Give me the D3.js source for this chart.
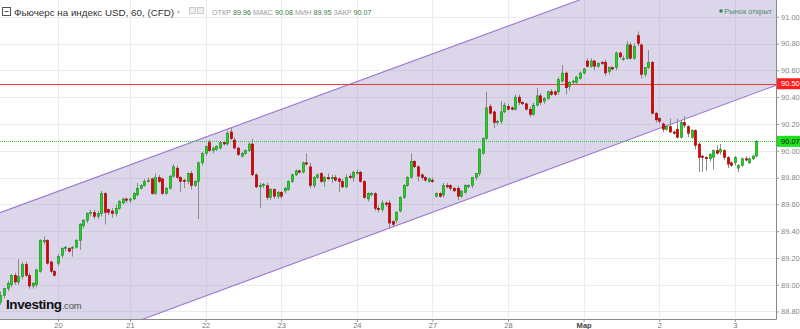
<!DOCTYPE html>
<html>
<head>
<meta charset="utf-8">
<script src="https://cdn.jsdelivr.net/npm/d3@7"></script>
<style>
  body { margin: 0; background: #fff; }
  svg { display: block; font-family: "Liberation Sans", Arial, sans-serif; }
</style>
</head>
<body>
<div id="chart"></div>
<script>
// hourly candles, USD index futures (CFD)
const opens = [88.87,88.92,88.97,89.00,89.07,89.02,89.06,89.15,89.07,88.99,89.00,89.10,89.32,89.33,89.17,89.10,89.16,89.22,89.27,89.27,
  89.27,89.28,89.33,89.44,89.48,89.53,89.54,89.51,89.53,89.68,89.56,89.55,89.53,89.57,89.61,89.64,89.63,89.64,89.67,89.72,
  89.74,89.77,89.79,89.68,89.80,89.79,89.68,89.72,89.81,89.87,89.80,89.78,89.77,89.83,89.74,89.77,89.91,89.98,90.06,90.00,
  90.01,90.02,90.06,90.05,90.14,90.08,90.02,89.96,89.98,90.00,90.05,89.82,89.73,89.74,89.74,89.65,89.71,89.66,89.69,89.70,
  89.71,89.77,89.82,89.85,89.84,89.91,89.88,89.74,89.80,89.83,89.77,89.80,89.79,89.80,89.79,89.77,89.73,89.81,89.80,89.83,
  89.84,89.77,89.64,89.67,89.68,89.57,89.56,89.61,89.61,89.47,89.48,89.55,89.65,89.74,89.80,89.92,89.88,89.82,89.80,89.77,
  89.78,89.66,89.68,89.67,89.74,89.74,89.72,89.72,89.66,89.69,89.73,89.74,89.80,89.83,89.98,90.09,90.33,90.29,90.21,90.22,
  90.29,90.33,90.32,90.31,90.40,90.36,90.35,90.31,90.27,90.34,90.41,90.37,90.39,90.44,90.44,90.44,90.52,90.58,90.48,90.51,
  90.51,90.54,90.58,90.67,90.63,90.67,90.63,90.66,90.66,90.59,90.62,90.62,90.73,90.69,90.69,90.79,90.69,90.86,90.79,90.57,
  90.62,90.66,90.28,90.24,90.20,90.16,90.18,90.14,90.16,90.10,90.21,90.18,90.10,90.15,90.05,89.96,89.95,89.94,89.95,90.00,
  89.99,90.00,89.95,89.91,89.91,89.87,89.89,89.94,89.91,89.94,89.96];
const highs = [88.95,88.97,89.03,89.08,89.09,89.19,89.17,89.17,89.09,89.02,89.12,89.34,89.36,89.34,89.18,89.11,89.23,89.28,89.29,89.28,
  89.29,89.34,89.46,89.49,89.54,89.56,89.56,89.55,89.70,89.69,89.57,89.57,89.60,89.63,89.65,89.65,89.65,89.69,89.76,89.75,
  89.79,89.80,89.80,89.83,89.82,89.80,89.73,89.82,89.90,89.89,89.81,89.79,89.84,89.85,89.78,89.92,89.99,90.04,90.08,90.03,
  90.04,90.07,90.07,90.15,90.17,90.10,90.03,89.99,90.01,90.06,90.09,89.83,89.76,89.76,89.76,89.72,89.72,89.70,89.70,89.73,
  89.78,89.83,89.86,89.86,89.92,89.98,89.91,89.81,89.83,89.84,89.81,89.83,89.82,89.82,89.80,89.79,89.82,89.83,89.85,89.86,
  89.85,89.78,89.69,89.69,89.69,89.59,89.63,89.62,89.63,89.48,89.55,89.66,89.75,89.81,89.98,89.93,89.89,89.83,89.81,89.80,
  89.80,89.69,89.69,89.76,89.76,89.75,89.73,89.74,89.70,89.75,89.75,89.80,89.83,90.02,90.10,90.44,90.35,90.30,90.23,90.37,
  90.36,90.35,90.33,90.42,90.42,90.37,90.36,90.33,90.36,90.47,90.43,90.40,90.45,90.46,90.45,90.55,90.64,90.59,90.52,90.53,
  90.56,90.59,90.62,90.69,90.69,90.68,90.66,90.67,90.68,90.63,90.63,90.74,90.74,90.71,90.82,90.81,90.80,90.89,90.80,90.62,
  90.75,90.67,90.29,90.25,90.21,90.19,90.24,90.15,90.24,90.23,90.26,90.19,90.16,90.16,90.06,89.97,89.96,89.98,90.01,90.04,
  90.05,90.01,89.96,89.92,89.96,89.90,89.95,89.96,89.95,89.97,90.08];
const lows = [88.85,88.90,88.95,88.98,89.00,89.00,89.04,89.06,88.97,88.97,88.98,89.09,89.30,89.15,89.09,89.06,89.14,89.20,89.25,89.24,
  89.21,89.27,89.26,89.42,89.46,89.51,89.49,89.49,89.51,89.45,89.52,89.50,89.51,89.56,89.60,89.61,89.61,89.63,89.66,89.71,
  89.73,89.76,89.67,89.67,89.76,89.67,89.67,89.71,89.80,89.79,89.69,89.72,89.75,89.71,89.73,89.49,89.89,89.96,89.99,89.98,
  90.00,90.01,90.04,90.04,90.08,90.01,89.96,89.95,89.97,89.99,89.81,89.72,89.57,89.72,89.63,89.63,89.64,89.64,89.64,89.68,
  89.70,89.76,89.81,89.83,89.83,89.89,89.72,89.72,89.79,89.76,89.73,89.78,89.76,89.77,89.69,89.72,89.72,89.79,89.77,89.82,
  89.76,89.64,89.62,89.66,89.55,89.54,89.54,89.58,89.42,89.43,89.46,89.54,89.64,89.73,89.79,89.87,89.77,89.78,89.77,89.76,
  89.76,89.65,89.65,89.65,89.72,89.70,89.69,89.63,89.65,89.68,89.72,89.72,89.78,89.81,89.97,90.08,90.27,90.17,90.19,90.20,
  90.28,90.30,90.30,90.30,90.34,90.34,90.30,90.25,90.26,90.33,90.34,90.35,90.38,90.41,90.41,90.42,90.51,90.42,90.45,90.50,
  90.50,90.53,90.57,90.62,90.62,90.60,90.62,90.64,90.56,90.57,90.60,90.60,90.69,90.67,90.68,90.68,90.68,90.78,90.54,90.55,
  90.61,90.27,90.21,90.20,90.14,90.15,90.13,90.12,90.09,90.09,90.17,90.10,90.09,90.01,89.84,89.84,89.85,89.92,89.86,89.97,
  89.97,89.93,89.87,89.88,89.89,89.84,89.88,89.92,89.90,89.93,89.95];
const closes = [88.92,88.97,89.01,89.07,89.02,89.06,89.15,89.07,88.99,89.01,89.11,89.33,89.33,89.16,89.10,89.07,89.21,89.27,89.28,89.25,
  89.28,89.33,89.45,89.48,89.53,89.54,89.51,89.53,89.68,89.54,89.54,89.53,89.57,89.62,89.64,89.63,89.64,89.68,89.72,89.74,
  89.77,89.78,89.68,89.80,89.77,89.68,89.72,89.81,89.88,89.80,89.77,89.77,89.83,89.74,89.77,89.91,89.98,90.03,90.00,90.02,
  90.03,90.06,90.05,90.13,90.09,90.02,89.97,89.98,90.00,90.05,89.82,89.73,89.74,89.75,89.65,89.71,89.66,89.69,89.66,89.72,
  89.77,89.82,89.85,89.84,89.91,89.90,89.74,89.80,89.82,89.77,89.80,89.79,89.80,89.78,89.77,89.73,89.80,89.80,89.84,89.84,
  89.77,89.65,89.68,89.68,89.57,89.56,89.61,89.60,89.46,89.45,89.54,89.65,89.74,89.80,89.92,89.88,89.81,89.80,89.78,89.79,
  89.77,89.68,89.66,89.74,89.73,89.72,89.70,89.66,89.70,89.74,89.74,89.80,89.83,90.01,90.09,90.32,90.28,90.21,90.22,90.29,
  90.34,90.31,90.31,90.40,90.36,90.35,90.31,90.27,90.34,90.41,90.36,90.39,90.44,90.42,90.42,90.53,90.58,90.47,90.51,90.52,
  90.55,90.58,90.61,90.63,90.67,90.63,90.65,90.65,90.58,90.62,90.61,90.73,90.70,90.69,90.79,90.69,90.78,90.80,90.57,90.62,
  90.66,90.28,90.23,90.22,90.16,90.18,90.14,90.13,90.10,90.21,90.19,90.13,90.15,90.04,89.95,89.95,89.94,89.97,90.00,89.98,
  90.01,89.95,89.90,89.89,89.95,89.89,89.94,89.93,89.94,89.96,90.07];

// day ticks (candle index where each session label sits)
const dayTickIdx = [16, 36, 57, 78, 99, 120, 141, 162, 183, 204];
const dayTickLabels = ["20", "21", "22", "23", "24", "27", "28", "Мар", "2", "3"];

// ascending channel drawn on the chart (candle index, price)
const channelUpper = [{ i: 0, p: 89.539 }, { i: 210, p: 91.610 }];
const channelLower = [{ i: 0, p: 88.350 }, { i: 210, p: 90.434 }];

const levelLine = 90.50;
const lastPrice = 90.07;
const ohlcNames = ["ОТКР", "МАКС", "МИН", "ЗАКР"];
const ohlcValues = ["89.96", "90.08", "89.95", "90.07"];

const W = 800, H = 329;
const plotW = 776, plotH = 319;

const candles = opens.map((o, i) => ({ i: i, o: o, h: highs[i], l: lows[i], c: closes[i] }));

const svg = d3.select("#chart").append("svg")
  .attr("width", W).attr("height", H);

const x = d3.scaleLinear().domain([-0.111, 215.44]).range([0, plotW]);
const y = d3.scaleLinear().domain([88.744, 91.125]).range([plotH, 0]);

svg.append("defs").append("clipPath").attr("id", "plotClip")
  .append("rect").attr("width", plotW).attr("height", plotH);

// grid
const grid = svg.append("g").attr("class", "grid");
const yTicks = d3.range(88.8, 91.01, 0.2);
grid.selectAll(".hg").data(yTicks).enter().append("line")
  .attr("x1", 0).attr("x2", plotW)
  .attr("y1", d => Math.round(y(d)) + 0.5).attr("y2", d => Math.round(y(d)) + 0.5)
  .attr("stroke", "#ececec");
grid.selectAll(".vg").data(dayTickIdx).enter().append("line")
  .attr("y1", 0).attr("y2", plotH)
  .attr("x1", d => Math.round(x(d)) + 0.5).attr("x2", d => Math.round(x(d)) + 0.5)
  .attr("stroke", "#ececec");

const plot = svg.append("g").attr("clip-path", "url(#plotClip)");

// channel: extend the two lines over the whole x domain
function extend(pts) {
  const slope = (pts[1].p - pts[0].p) / (pts[1].i - pts[0].i);
  const d0 = x.domain()[0], d1 = x.domain()[1];
  return [[d0, pts[0].p + slope * (d0 - pts[0].i)], [d1, pts[0].p + slope * (d1 - pts[0].i)]];
}
const up = extend(channelUpper), lo = extend(channelLower);
const poly = [up[0], up[1], lo[1], lo[0]];
plot.append("path")
  .attr("d", "M" + poly.map(d => [x(d[0]), y(d[1])].join(",")).join("L") + "Z")
  .attr("fill", "rgb(160,146,196)").attr("fill-opacity", 0.38);
[up, lo].forEach(l => {
  plot.append("line")
    .attr("x1", x(l[0][0])).attr("y1", y(l[0][1]))
    .attr("x2", x(l[1][0])).attr("y2", y(l[1][1]))
    .attr("stroke", "#a078d0").attr("stroke-width", 1.1);
});

// horizontal level and last price
plot.append("line")
  .attr("x1", 0).attr("x2", plotW)
  .attr("y1", Math.round(y(levelLine)) + 0.5).attr("y2", Math.round(y(levelLine)) + 0.5)
  .attr("stroke", "#f0383c").attr("stroke-width", 1);
plot.append("line")
  .attr("x1", 0).attr("x2", plotW)
  .attr("y1", Math.round(y(lastPrice)) + 0.5).attr("y2", Math.round(y(lastPrice)) + 0.5)
  .attr("stroke", "#33cc33").attr("stroke-dasharray", "1,1");

// candles
const cg = plot.append("g");
cg.selectAll(".wick").data(candles).enter().append("line")
  .attr("x1", d => Math.round(x(d.i)) + 0.5).attr("x2", d => Math.round(x(d.i)) + 0.5)
  .attr("y1", d => y(d.h)).attr("y2", d => y(d.l))
  .attr("stroke", "#8a8a8a").attr("stroke-width", 1);
cg.selectAll(".body").data(candles).enter().append("rect")
  .attr("x", d => Math.round(x(d.i)) - 0.7)
  .attr("width", 2.4)
  .attr("y", d => y(Math.max(d.o, d.c)))
  .attr("height", d => Math.max(1, Math.abs(y(d.o) - y(d.c))))
  .attr("fill", d => d.c >= d.o ? "#1ed41e" : "#e00000")
  .attr("stroke", d => d.c >= d.o ? "#137a13" : "#8a0000")
  .attr("stroke-width", 0.5);

// axes
svg.append("line").attr("x1", 0).attr("x2", plotW + 0.5)
  .attr("y1", plotH + 0.5).attr("y2", plotH + 0.5).attr("stroke", "#888");
svg.append("line").attr("x1", plotW + 0.5).attr("x2", plotW + 0.5)
  .attr("y1", 0).attr("y2", plotH + 0.5).attr("stroke", "#888");

const yAx = svg.append("g").attr("transform", "translate(" + plotW + ",0)")
  .call(d3.axisRight(y).tickValues(yTicks).tickSize(3).tickFormat(d3.format(".2f")));
yAx.select(".domain").remove();
yAx.selectAll("line").attr("stroke", "#999");
yAx.selectAll("text").attr("fill", "#888").attr("font-size", 7.5)
  .attr("font-family", "Liberation Sans, Arial, sans-serif").attr("x", 5);

const xAx = svg.append("g").attr("transform", "translate(0," + plotH + ")")
  .call(d3.axisBottom(x).tickValues(dayTickIdx).tickSize(3)
    .tickFormat((d, k) => dayTickLabels[k]));
xAx.select(".domain").remove();
xAx.selectAll("line").attr("stroke", "#999");
xAx.selectAll("text").attr("font-size", 7.5)
  .attr("font-family", "Liberation Sans, Arial, sans-serif").attr("y", 4)
  .attr("font-weight", (d, k) => dayTickLabels[k] === "Мар" ? "bold" : null)
  .attr("fill", (d, k) => dayTickLabels[k] === "Мар" ? "#444" : "#777");

// price tags on the right scale
function tag(v, bg, fg) {
  const g = svg.append("g").attr("transform", "translate(" + (plotW + 1) + "," + y(v) + ")");
  g.append("rect").attr("x", 0).attr("y", -5.5).attr("width", 23).attr("height", 11).attr("fill", bg);
  g.append("text").attr("x", 4).attr("dy", "0.35em").attr("font-size", 7.5).attr("fill", fg)
    .text(d3.format(".2f")(v));
}
tag(levelLine, "#ff1f1f", "#fff");
tag(lastPrice, "#1ee01e", "#111");

// header
const hdr = svg.append("g");
hdr.append("rect").attr("x", 2.5).attr("y", 7.5).attr("width", 8).attr("height", 8)
  .attr("fill", "none").attr("stroke", "#555");
hdr.append("line").attr("x1", 4.5).attr("x2", 8.5).attr("y1", 11.5).attr("y2", 11.5).attr("stroke", "#555");
hdr.append("text").attr("x", 14).attr("y", 15.5).attr("font-size", 9.8).attr("fill", "#333")
  .text("Фьючерс на индекс USD, 60, (CFD)");
hdr.append("text").attr("x", 177).attr("y", 14).attr("font-size", 6).attr("fill", "#bbb").text("▾");
hdr.append("rect").attr("x", 189.5).attr("y", 7.5).attr("width", 6).attr("height", 6)
  .attr("fill", "#eee").attr("stroke", "#ccc");
hdr.append("rect").attr("x", 197.5).attr("y", 7.5).attr("width", 6).attr("height", 6)
  .attr("fill", "#eee").attr("stroke", "#ccc");
const ohlc = hdr.append("text").attr("x", 212).attr("y", 14.5).attr("font-size", 7.2);
ohlcNames.forEach((n, k) => {
  ohlc.append("tspan").attr("fill", "#999").text((k ? " " : "") + n + " ");
  ohlc.append("tspan").attr("fill", "#3a7d3a").text(ohlcValues[k]);
});
hdr.append("circle").attr("cx", 721).attr("cy", 11).attr("r", 1.8).attr("fill", "#2e8b57");
hdr.append("text").attr("x", 772).attr("y", 14).attr("text-anchor", "end")
  .attr("font-size", 7.5).attr("fill", "#4f8a6c")
  .text("Рынок открыт");

// logo
const logo = svg.append("text").attr("x", 6).attr("y", 309);
logo.append("tspan").attr("font-size", 13.5).attr("font-weight", "bold").attr("fill", "#111")
  .attr("letter-spacing", -0.4).text("Investing");
logo.append("tspan").attr("font-size", 9.5).attr("fill", "#555").attr("letter-spacing", -0.2).text(".com");
</script>
</body>
</html>
